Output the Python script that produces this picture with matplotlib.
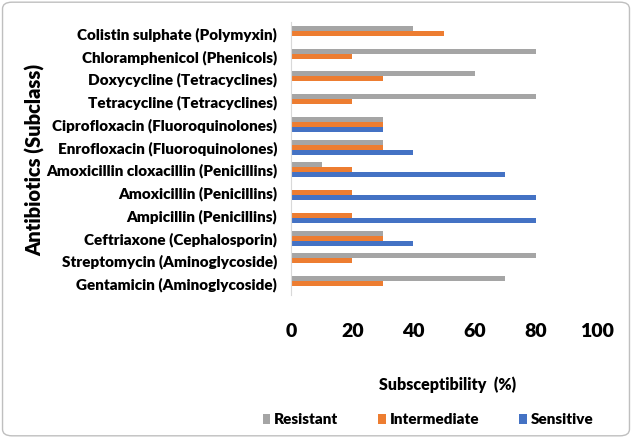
import numpy as np
import matplotlib.pyplot as plt
from matplotlib.patches import FancyBboxPatch

plt.rcParams['font.family'] = ['Lato', 'DejaVu Sans']
plt.rcParams['font.weight'] = 'heavy'

# données (de bas en haut)
antibiotics = [
    "Gentamicin (Aminoglycoside)",
    "Streptomycin (Aminoglycoside)",
    "Ceftriaxone (Cephalosporin)",
    "Ampicillin (Penicillins)",
    "Amoxicillin (Penicillins)",
    "Amoxicillin cloxacillin (Penicillins)",
    "Enrofloxacin (Fluoroquinolones)",
    "Ciprofloxacin (Fluoroquinolones)",
    "Tetracycline (Tetracyclines)",
    "Doxycycline (Tetracyclines)",
    "Chloramphenicol (Phenicols)",
    "Colistin sulphate (Polymyxin)",
]
resistant = [70, 80, 30, 0, 0, 10, 30, 30, 80, 60, 80, 40]
intermediate = [30, 20, 30, 20, 20, 20, 30, 30, 20, 30, 20, 50]
sensitive = [0, 0, 40, 80, 80, 70, 40, 30, 0, 0, 0, 0]
x_ticks = [0, 20, 40, 60, 80, 100]

fig = plt.figure(figsize=(6.32, 4.38), dpi=100)
ax = fig.add_axes([291/632, 1-295/438, 306/632, 273/438])

y = np.arange(len(antibiotics))
h = 0.22
ax.barh(y + h, resistant, height=h, color='#A5A5A5', label='Resistant')
ax.barh(y, intermediate, height=h, color='#ED7D31', label='Intermediate')
ax.barh(y - h, sensitive, height=h, color='#4472C4', label='Sensitive')

ax.set_ylim(-0.5, len(antibiotics) - 0.5)
ax.set_xlim(0, 100)
ax.set_yticks(y)
ax.set_yticklabels(antibiotics, fontsize=11, fontweight='heavy')
ax.set_xticks(x_ticks)
ax.set_xticklabels([str(t) for t in x_ticks], fontsize=14, fontweight='heavy')
ax.tick_params(axis='x', length=0, pad=20)
ax.tick_params(axis='y', length=0, pad=10)

for s in ['top', 'right', 'bottom']:
    ax.spines[s].set_visible(False)
ax.spines['left'].set_color('#D9D9D9')

fig.text(448/632, 1-385/438, "Subsceptibility  (%)", ha='center', va='center',
         fontsize=11.5, fontweight='heavy')
fig.text(35/632, 1-160/438, "Antibiotics (Subclass)", ha='center', va='center',
         rotation=90, fontsize=14.5, fontweight='heavy')

fig.legend(loc='center', bbox_to_anchor=(428/632, 1-420/438), ncol=3, frameon=False,
           fontsize=11, handlelength=0.5, handleheight=0.6, columnspacing=2.6,
           handletextpad=0.25)

border = FancyBboxPatch((0.004, 0.005), 0.992, 0.99, boxstyle="round,pad=0,rounding_size=0.015",
                        transform=fig.transFigure, fill=False, edgecolor='#BFBFBF', lw=1)
fig.patches.append(border)

fig.savefig("out.png", dpi=100)
